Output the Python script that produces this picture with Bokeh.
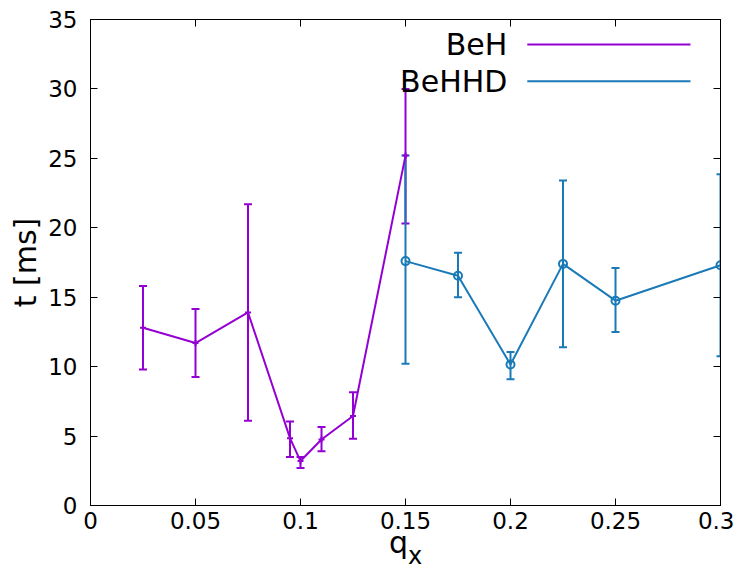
from bokeh.plotting import figure
from bokeh.models import (ColumnDataSource, Whisker, TeeHead, FixedTicker,
                          LinearAxis, Label, Range1d, Div)
from bokeh.layouts import column
from bokeh.embed import file_html
from bokeh.resources import INLINE

# ---- data ----
beh_x = [0.025, 0.05, 0.075, 0.095, 0.1, 0.11, 0.125, 0.15]
beh_t = [12.8, 11.7, 13.9, 4.85, 3.2, 4.75, 6.45, 25.2]
beh_lo = [9.8, 9.25, 6.1, 3.5, 2.7, 3.9, 4.8, 20.3]
beh_hi = [15.8, 14.15, 21.7, 6.05, 3.5, 5.65, 8.15, 30.0]

behhd_x = [0.15, 0.175, 0.2, 0.225, 0.25, 0.3]
behhd_t = [17.6, 16.55, 10.15, 17.4, 14.75, 17.3]
behhd_lo = [10.2, 15.0, 9.1, 11.4, 12.5, 10.75]
behhd_hi = [25.2, 18.2, 11.05, 23.4, 17.1, 23.85]

x_ticks = [0, 0.05, 0.1, 0.15, 0.2, 0.25, 0.3]
x_tick_labels = ["0", "0.05", "0.1", "0.15", "0.2", "0.25", "0.3"]
y_ticks = [0, 5, 10, 15, 20, 25, 30, 35]
y_tick_labels = ["0", "5", "10", "15", "20", "25", "30", "35"]

series_names = ["BeH", "BeHHD"]
PURPLE = "#9400d3"
BLUE = "#1a7ab8"
FONT = "DejaVu Sans"

p = figure(frame_width=630, frame_height=486,
           x_range=Range1d(0, 0.3), y_range=Range1d(0, 35),
           output_backend="svg", toolbar_location=None,
           min_border_left=90, min_border_top=19, min_border_right=14,
           min_border_bottom=33)
p.grid.visible = False
p.outline_line_color = "black"
p.outline_line_width = 1
p.border_fill_color = "white"
p.background_fill_color = "white"


def style_axis(ax, ticks, labels, show_labels=True):
    ax.ticker = FixedTicker(ticks=ticks)
    ax.major_label_overrides = {t: l for t, l in zip(ticks, labels)}
    ax.minor_tick_line_color = None
    ax.major_tick_in = 7
    ax.major_tick_out = 0
    ax.major_tick_line_color = "black"
    ax.axis_line_color = "black"
    ax.major_label_text_font = FONT
    ax.major_label_text_color = "black"
    if show_labels:
        ax.major_label_text_font_size = "23px"
    else:
        ax.major_label_text_font_size = "0px"
        ax.major_label_standoff = 0


xa = p.xaxis[0]
style_axis(xa, x_ticks, x_tick_labels)
xa.major_label_standoff = 6

ya = p.yaxis[0]
style_axis(ya, y_ticks, y_tick_labels)
ya.major_label_standoff = 13
ya.axis_label = "t [ms]"
ya.axis_label_text_font = FONT
ya.axis_label_text_font_size = "30px"
ya.axis_label_text_font_style = "normal"
ya.axis_label_text_color = "black"
ya.axis_label_standoff = 2

top = LinearAxis()
style_axis(top, x_ticks, ["" for _ in x_ticks], show_labels=False)
p.add_layout(top, "above")
right = LinearAxis()
style_axis(right, y_ticks, ["" for _ in y_ticks], show_labels=False)
p.add_layout(right, "right")

# ---- BeH ----
s1 = ColumnDataSource(dict(x=beh_x, t=beh_t, lo=beh_lo, hi=beh_hi))
p.line("x", "t", source=s1, line_color=PURPLE, line_width=2)
w1 = Whisker(base="x", lower="lo", upper="hi", source=s1,
             line_color=PURPLE, line_width=2,
             upper_head=TeeHead(size=8, line_color=PURPLE, line_width=2),
             lower_head=TeeHead(size=8, line_color=PURPLE, line_width=2))
p.add_layout(w1)
p.scatter("x", "t", source=s1, marker="cross", size=6,
          line_color=PURPLE, line_width=2)

# ---- BeHHD ----
s2 = ColumnDataSource(dict(x=behhd_x, t=behhd_t, lo=behhd_lo, hi=behhd_hi))
p.line("x", "t", source=s2, line_color=BLUE, line_width=2)
w2 = Whisker(base="x", lower="lo", upper="hi", source=s2,
             line_color=BLUE, line_width=2,
             upper_head=TeeHead(size=8, line_color=BLUE, line_width=2),
             lower_head=TeeHead(size=8, line_color=BLUE, line_width=2))
p.add_layout(w2)
p.scatter("x", "t", source=s2, marker="circle", size=8, fill_color=None,
          line_color=BLUE, line_width=2)

# ---- legend (gnuplot style: text right-aligned, sample line to the right) ----
leg_y = [33.2, 30.55]
leg_colors = [PURPLE, BLUE]
for name, yy, col in zip(series_names, leg_y, leg_colors):
    p.add_layout(Label(x=0.1985, y=yy, text=name, text_align="right",
                       text_baseline="middle", text_font=FONT,
                       text_font_size="30px", text_color="black"))
    p.segment(x0=[0.208], x1=[0.2857], y0=[yy], y1=[yy],
              line_color=col, line_width=2)

# ---- x-axis title: q with subscript x ----
xlabel = Div(
    text=('<div style="padding-left:389px;font-family:\'DejaVu Sans\';'
          'font-size:30px;line-height:10px;color:black;white-space:nowrap">'
          'q<span style="font-size:24px;position:relative;top:11px">x</span>'
          '</div>'),
    width=734, height=20, margin=(0, 0, 0, 0))

layout = column(p, xlabel, spacing=0)
open("out.html", "w").write(file_html(layout, INLINE))
